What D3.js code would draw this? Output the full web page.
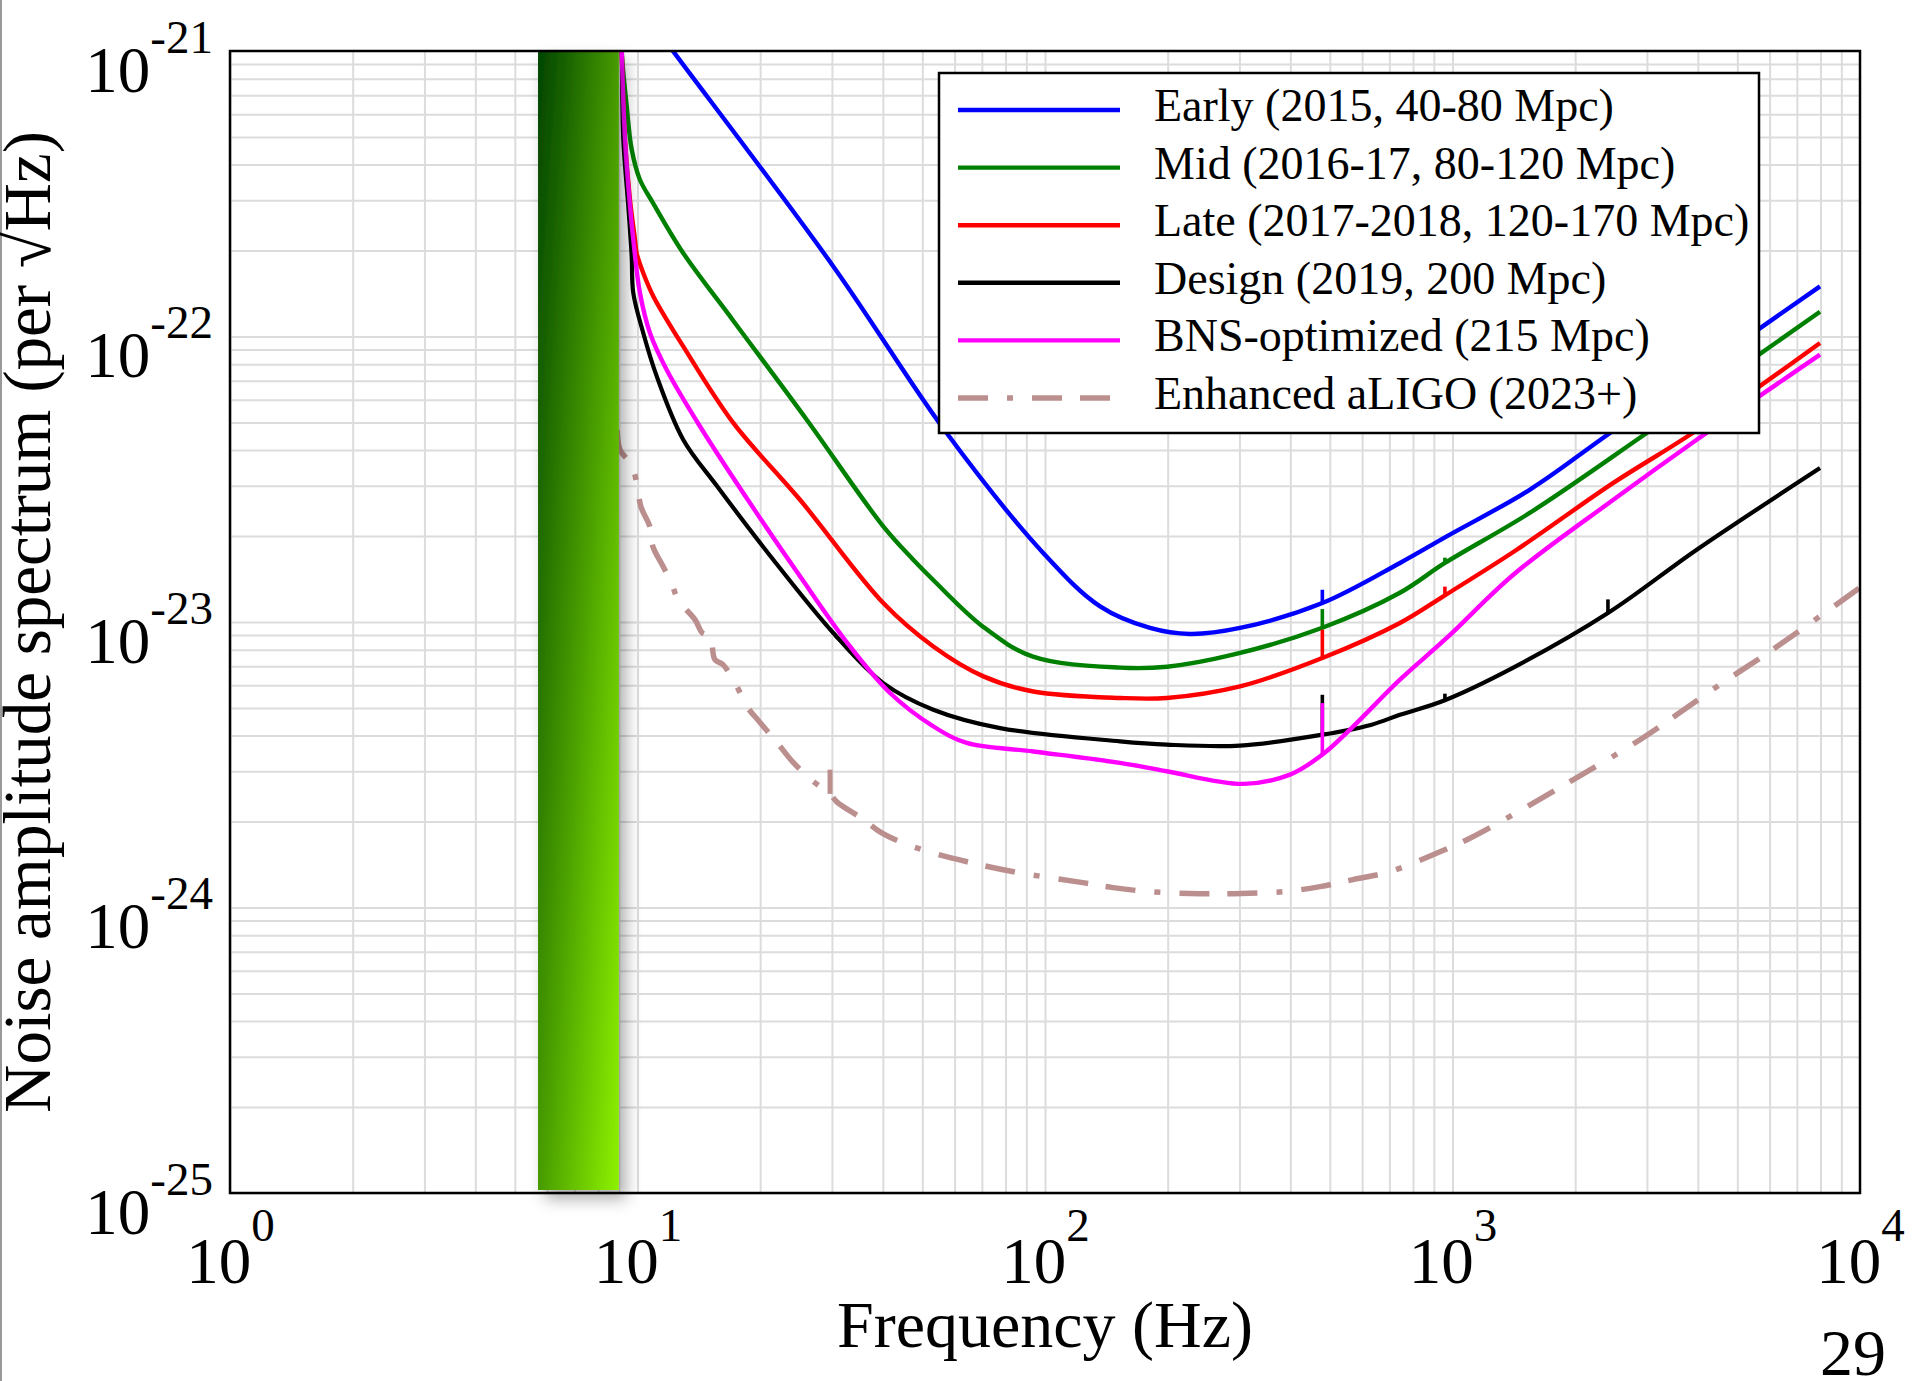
<!DOCTYPE html>
<html lang="en">
<head>
<meta charset="UTF-8" />
<title>aLIGO noise amplitude spectrum</title>
<style>
  body { margin: 0; background: #fff; }
  svg { display: block; }
  text { font-family: "Liberation Serif", "Times New Roman", serif; fill: #000; }
</style>
</head>
<body>
<div class="chart"></div>
<script src="https://d3js.org/d3.v7.min.js"></script>
<script>
// 各階段的頻率 (Hz) 與雜訊振幅 (per √Hz)
const earlyFreq  = [10, 12.24, 30.24, 57.37, 99.0, 136.5, 181.0, 226.9, 301, 479.3, 743.3, 967.8, 1549.5, 2435, 7977];
const earlyNoise = [1.47e-21, 9.97e-22, 1.76e-22, 4.59e-23, 1.745e-23, 1.134e-23, 9.53e-24, 9.08e-24, 9.53e-24, 1.165e-23, 1.61e-23, 1.995e-23, 2.91e-23, 4.59e-23, 1.498e-22];

const midFreq  = [9.0, 9.147, 9.41, 9.68, 10.14, 10.91, 12.93, 17.18, 26.02, 40.1, 47.5, 53.1, 70.45, 93.45, 152.8, 199.3, 289.3, 479.3, 743, 958, 1549.6, 2996, 7977];
const midNoise = [3e-21, 1.0e-21, 6.4e-22, 4.51e-22, 3.54e-22, 2.94e-22, 1.966e-22, 1.136e-22, 5.11e-23, 2.162e-23, 1.652e-23, 1.406e-23, 9.63e-24, 7.56e-24, 6.92e-24, 6.97e-24, 7.68e-24, 9.55e-24, 1.266e-23, 1.61e-23, 2.414e-23, 4.59e-23, 1.221e-22];

const lateFreq  = [9.0, 9.147, 9.318, 9.585, 9.86, 9.95, 10.33, 10.94, 12.95, 17.18, 25.05, 40.1, 53.2, 70.6, 93.6, 152.8, 198.9, 301, 479.3, 743, 958, 1437.6, 2481, 3892, 7977];
const lateNoise = [3e-21, 1.0e-21, 4.89e-22, 3.01e-22, 2.18e-22, 1.961e-22, 1.669e-22, 1.382e-22, 9.23e-23, 4.98e-23, 2.68e-23, 1.165e-23, 8.21e-24, 6.45e-24, 5.71e-24, 5.42e-24, 5.42e-24, 5.95e-24, 7.48e-24, 9.92e-24, 1.24e-23, 1.791e-23, 3.07e-23, 4.6e-23, 9.49e-23];

const designFreq  = [9.0, 9.147, 9.23, 9.493, 9.676, 9.765, 10.33, 11.15, 12.95, 15.65, 21.54, 30.24, 40.1, 53.2, 77.6, 152.8, 198.9, 301, 479.3, 630, 743, 958, 1410, 2407, 3975, 7977];
const designNoise = [3e-21, 1.0e-21, 4.89e-22, 2.86e-22, 1.91e-22, 1.42e-22, 1.029e-22, 7.25e-23, 4.35e-23, 3.0e-23, 1.652e-23, 9.15e-24, 6.11e-24, 4.93e-24, 4.25e-24, 3.82e-24, 3.72e-24, 3.69e-24, 4.03e-24, 4.36e-24, 4.73e-24, 5.32e-24, 6.92e-24, 1.075e-23, 1.791e-23, 3.46e-23];

const bnsFreq  = [9.0, 9.147, 9.318, 9.585, 9.765, 10.14, 10.73, 11.79, 14.24, 18.88, 25.05, 33.23, 41.66, 53.2, 64.27, 93.6, 152.8, 198.9, 306.7, 399.2, 479.3, 560.4, 743, 967.8, 1410, 2481, 3975, 7977];
const bnsNoise = [3e-21, 1.0e-21, 4.89e-22, 2.86e-22, 2.18e-22, 1.42e-22, 1.029e-22, 7.65e-23, 4.84e-23, 2.61e-23, 1.446e-23, 8.21e-24, 5.64e-24, 4.31e-24, 3.77e-24, 3.52e-24, 3.21e-24, 3.0e-24, 2.71e-24, 2.92e-24, 3.43e-24, 4.2e-24, 6.28e-24, 8.79e-24, 1.464e-23, 2.68e-23, 4.35e-23, 8.64e-23];

const enhancedFreq  = [8.91, 9.06, 9.45, 9.77, 9.97, 10.2, 10.72, 10.91, 11.48, 12.15, 12.57, 13.84, 14.4, 15.06, 15.49, 16.21, 17.55, 18.57, 19.98, 22.37, 24.07, 26.96, 29.68, 30.88, 35.76, 39.37, 44.08, 51.63, 64.4, 85.4, 123.9, 146.9, 181, 240.2, 289.3, 383.7, 473, 569.9, 702.4, 895.7, 1085.4, 1407.6, 1975.6, 2885, 4458, 6257, 10000];
const enhancedNoise = [4.71e-23, 4.01e-23, 3.7e-23, 3.41e-23, 3.03e-23, 2.53e-23, 2.16e-23, 1.836e-23, 1.592e-23, 1.356e-23, 1.197e-23, 1.019e-23, 9.18e-24, 8.88e-24, 7.38e-24, 7.09e-24, 5.93e-24, 5.05e-24, 4.45e-24, 3.67e-24, 3.23e-24, 2.77e-24, 2.5e-24, 2.34e-24, 2.04e-24, 1.84e-24, 1.7e-24, 1.57e-24, 1.446e-24, 1.327e-24, 1.222e-24, 1.174e-24, 1.136e-24, 1.118e-24, 1.118e-24, 1.136e-24, 1.183e-24, 1.252e-24, 1.335e-24, 1.531e-24, 1.728e-24, 2.114e-24, 2.8e-24, 3.87e-24, 5.94e-24, 8.2e-24, 1.32e-23];

// 窄頻譜線 [頻率, 底部, 頂端]
const earlyLines    = [[479.3, 1.165e-23, 1.297e-23]];
const midLines      = [[479.3, 9.55e-24, 1.11e-23], [958, 1.61e-23, 1.68e-23]];
const lateLines     = [[479.3, 7.48e-24, 9.4e-24], [958, 1.24e-23, 1.33e-23]];
const designLines   = [[479.3, 4.03e-24, 5.56e-24], [958, 5.32e-24, 5.61e-24], [2407, 1.075e-23, 1.2e-23]];
const bnsLines      = [[479.3, 3.43e-24, 5.2e-24]];
const enhancedLines = [[29.68, 2.5e-24, 3.04e-24]];

const seriesNames = [
  'Early (2015, 40-80 Mpc)',
  'Mid (2016-17, 80-120 Mpc)',
  'Late (2017-2018, 120-170 Mpc)',
  'Design (2019, 200 Mpc)',
  'BNS-optimized (215 Mpc)',
  'Enhanced aLIGO (2023+)'
];

// 坐標軸刻度 (10 的次方)
const xTickExps = [0, 1, 2, 3, 4];
const yTickExps = [-21, -22, -23, -24, -25];

// 低頻綠色區塊 (Hz)
const bandRange = [5.7, 9.0];

// 線條樣式
const lineColors = ['#0000ff', '#008000', '#ff0000', '#000000', '#ff00ff', '#bc8f8f'];
const lineWidths = [4.4, 4.4, 4.4, 4.2, 4.4, 5.5];
const lineDashes = [null, null, null, null, null, '30 19 6 19 30 18'];

// 建立SVG
const svgWidth = 1917, svgHeight = 1381;
const plotLeft = 230, plotRight = 1860, plotTop = 51, plotBottom = 1193;

const svg = d3.select('.chart')
              .append('svg')
              .attr('width', svgWidth)
              .attr('height', svgHeight);

const defs = svg.append('defs');
defs.append('clipPath').attr('id', 'plotClip')
    .append('rect')
    .attr('x', plotLeft).attr('y', plotTop)
    .attr('width', plotRight - plotLeft).attr('height', plotBottom - plotTop);

const grad = defs.append('linearGradient')
    .attr('id', 'bandGrad')
    .attr('x1', 0).attr('y1', 0).attr('x2', 1).attr('y2', 1);
grad.append('stop').attr('offset', 0).attr('stop-color', '#004400');
grad.append('stop').attr('offset', 1).attr('stop-color', '#8ef200');

const shadow = defs.append('filter')
    .attr('id', 'bandShadow')
    .attr('x', -0.5).attr('y', -0.1).attr('width', 2).attr('height', 1.2);
shadow.append('feDropShadow')
    .attr('dx', 7).attr('dy', 9).attr('stdDeviation', 8)
    .attr('flood-color', '#000').attr('flood-opacity', 0.32);

// 頁面左側細線
svg.append('rect').attr('x', 0).attr('y', 0)
   .attr('width', 2).attr('height', svgHeight).attr('fill', '#999');

// 比例尺
const xScale = d3.scaleLog().domain([1, 1e4]).range([plotLeft, plotRight]);
const yScale = d3.scaleLog().domain([1e-25, 1e-21]).range([plotBottom, plotTop]);

// 格線 (主、次刻度)
const xGrid = [];
for (let e = 0; e < 4; e++) for (let k = 1; k <= 9; k++) xGrid.push(k * 10 ** e);
const yGrid = [];
for (let e = -25; e < -21; e++) for (let k = 1; k <= 9; k++) yGrid.push(k * 10 ** e);

const xGridAxis = svg.append('g')
    .attr('transform', `translate(0,${plotBottom})`)
    .call(d3.axisBottom(xScale).tickValues(xGrid).tickSize(-(plotBottom - plotTop)).tickFormat(''));
const yGridAxis = svg.append('g')
    .attr('transform', `translate(${plotLeft},0)`)
    .call(d3.axisLeft(yScale).tickValues(yGrid).tickSize(-(plotRight - plotLeft)).tickFormat(''));
[xGridAxis, yGridAxis].forEach(g => {
  g.select('.domain').remove();
  g.selectAll('line').attr('stroke', '#dcdcdc').attr('stroke-width', 2);
});

// 曲線
const allFreq  = [earlyFreq, midFreq, lateFreq, designFreq, bnsFreq, enhancedFreq];
const allNoise = [earlyNoise, midNoise, lateNoise, designNoise, bnsNoise, enhancedNoise];
const allLines = [earlyLines, midLines, lateLines, designLines, bnsLines, enhancedLines];

const lineGen = d3.line()
    .x(d => xScale(d[0]))
    .y(d => yScale(d[1]))
    .curve(d3.curveCatmullRom.alpha(0.5));

const spikeGen = d3.line()
    .x(d => xScale(d[0]))
    .y(d => yScale(d[1]));

const curves = svg.append('g').attr('clip-path', 'url(#plotClip)');
allFreq.forEach((f, i) => {
  curves.append('path')
    .datum(d3.zip(f, allNoise[i]))
    .attr('d', lineGen)
    .attr('fill', 'none')
    .attr('stroke', lineColors[i])
    .attr('stroke-width', lineWidths[i])
    .attr('stroke-dasharray', lineDashes[i])
    .attr('stroke-linejoin', 'round');

  // 窄頻譜線
  allLines[i].forEach(s => {
    curves.append('path')
      .datum([[s[0], s[1]], [s[0], s[2]]])
      .attr('d', spikeGen)
      .attr('fill', 'none')
      .attr('stroke', lineColors[i])
      .attr('stroke-width', i === 5 ? 5 : 3.6);
  });
});

// 低頻綠色區塊 (含陰影)
svg.append('rect')
   .attr('x', xScale(bandRange[0]))
   .attr('y', plotTop)
   .attr('width', xScale(bandRange[1]) - xScale(bandRange[0]))
   .attr('height', plotBottom - 3 - plotTop)
   .attr('fill', 'url(#bandGrad)')
   .attr('filter', 'url(#bandShadow)');

// 外框
svg.append('rect')
   .attr('x', plotLeft).attr('y', plotTop)
   .attr('width', plotRight - plotLeft).attr('height', plotBottom - plotTop)
   .attr('fill', 'none').attr('stroke', '#000').attr('stroke-width', 2.5);

// X軸刻度文字 10^n
const xLab = svg.append('g')
    .attr('transform', `translate(0,${plotBottom})`)
    .call(d3.axisBottom(xScale).tickValues(xTickExps.map(e => 10 ** e)).tickSize(0).tickFormat(''));
xLab.select('.domain').remove();
xLab.selectAll('.tick text').each(function (d) {
  const t = d3.select(this).attr('y', 90).attr('dy', null);
  t.append('tspan').attr('font-size', 65).text('10');
  t.append('tspan').attr('font-size', 47).attr('dy', -42).text(Math.round(Math.log10(d)));
});

// Y軸刻度文字 10^n
const yLab = svg.append('g')
    .attr('transform', `translate(${plotLeft},0)`)
    .call(d3.axisLeft(yScale).tickValues(yTickExps.map(e => 10 ** e)).tickSize(0).tickFormat(''));
yLab.select('.domain').remove();
yLab.selectAll('.tick text').each(function (d) {
  const t = d3.select(this).attr('x', -17).attr('y', 40).attr('dy', null);
  t.append('tspan').attr('font-size', 65).text('10');
  t.append('tspan').attr('font-size', 47).attr('dy', -39).text(Math.round(Math.log10(d)));
});

// 軸標題
svg.append('text')
   .attr('x', (plotLeft + plotRight) / 2).attr('y', 1347)
   .attr('text-anchor', 'middle').attr('font-size', 66)
   .text('Frequency (Hz)');
svg.append('text')
   .attr('transform', `translate(50,${(plotTop + plotBottom) / 2}) rotate(-90)`)
   .attr('text-anchor', 'middle').attr('font-size', 67)
   .text('Noise amplitude spectrum (per √Hz)');

// 圖例
const legend = svg.append('g');
legend.append('rect')
   .attr('x', 939).attr('y', 73).attr('width', 820).attr('height', 360)
   .attr('fill', '#fff').attr('stroke', '#000').attr('stroke-width', 2.5);
seriesNames.forEach((name, i) => {
  const ly = 110 + i * 57.6;
  legend.append('line')
     .attr('x1', 958).attr('x2', 1120).attr('y1', ly).attr('y2', ly)
     .attr('stroke', lineColors[i])
     .attr('stroke-width', i === 5 ? 5.5 : 4.4)
     .attr('stroke-dasharray', lineDashes[i]);
  legend.append('text')
     .attr('x', 1154).attr('y', ly + 11)
     .attr('font-size', 46)
     .text(name);
});

// 頁碼
svg.append('text')
   .attr('x', 1853).attr('y', 1375)
   .attr('text-anchor', 'middle').attr('font-size', 66)
   .text('29');
</script>
</body>
</html>
